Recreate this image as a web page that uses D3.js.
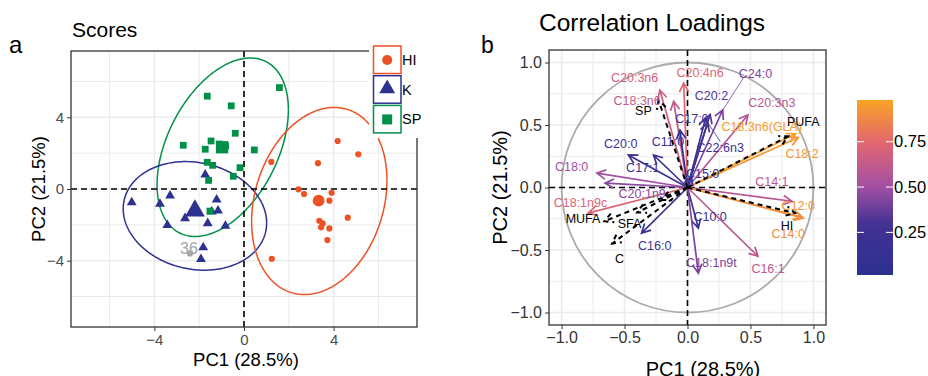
<!DOCTYPE html>
<html>
<head>
<meta charset="utf-8">
<script src="https://cdn.jsdelivr.net/npm/d3@7"></script>
<style>
  body { margin: 0; background: #fff; }
  svg { font-family: Helvetica, Arial, "Liberation Sans", sans-serif; }
</style>
</head>
<body>
<svg id="chart" width="928" height="376"></svg>
<script>
// ---- scores (panel a) ----
const groups = ['HI', 'K', 'SP'];
const groupColors = { HI: '#EE5124', K: '#2D3190', SP: '#00904A' };

const hiScores = [[2.43, -0.02], [2.68, -0.28], [3.91, -0.21], [3.81, -0.65], [4.63, -1.60],
  [3.36, -1.77], [3.51, -1.92], [3.44, -2.14], [3.81, -2.20], [3.72, -2.85], [1.24, -3.89],
  [4.18, 2.68], [5.10, 1.94], [3.30, 1.44], [1.22, 1.51]];
const kScores = [[-1.73, 0.74], [-5.01, -0.80], [-3.75, -0.89], [-3.30, -0.43], [-1.22, -0.65],
  [-2.63, -1.69], [-1.44, -1.32], [-1.16, -1.27], [-3.42, -2.07], [-1.62, -1.97], [-0.83, -2.11],
  [-1.82, -3.31], [-1.92, -3.97]];
const spScores = [[-1.64, 5.18], [-0.57, 4.64], [1.58, 5.66], [-0.39, 3.11], [-2.71, 2.44],
  [-1.47, 2.68], [-1.73, 2.22], [-1.10, 2.51], [-0.82, 2.40], [0.46, 2.18], [-1.64, 1.49],
  [-1.40, 1.32], [-0.18, 1.19], [-0.48, 0.71], [-1.58, 0.48], [-1.52, -1.23]];
const centroids = [['HI', 3.33, -0.65], ['K', -2.19, -1.32], ['SP', -0.98, 2.33]];
const outlier = { label: '36', x: -2.41, y: -3.59 };

// ellipse: centre, x half-range, y half-range, cos of phase shift
const ellipses = [
  { group: 'SP', cx: -0.95, cy: 2.33, rx: 2.93, ry: 4.98, c: 0.42 },
  { group: 'K', cx: -2.19, cy: -1.50, rx: 3.20, ry: 3.03, c: -0.13 },
  { group: 'HI', cx: 3.36, cy: -0.67, rx: 3.02, ry: 5.22, c: 0.22 }
];
const scoreTicks = [-4, 0, 4];

// ---- loadings (panel b) ----
const loadNames = ['C20:3n6', 'C18:3n6', 'C20:4n6', 'C20:2', 'C24:0', 'C20:3n3', 'C18:3n6(GLA)', 'C18:2',
  'C17:0', 'C22:6n3', 'C11:0', 'C17:1', 'C20:0', 'C18:0', 'C20:1n9', 'C18:1n9c', 'C16:0', 'C10:0',
  'C18:1n9t', 'C16:1', 'C14:1', 'C12:0', 'C14:0', 'C15:0'];
const loadPC1 = [-0.22, -0.11, -0.03, 0.18, 0.28, 0.48, 0.86, 0.88, 0.145, 0.16, -0.06, -0.27, -0.47,
  -0.72, -0.655, -0.79, -0.365, 0.086, 0.086, 0.56, 0.83, 0.91, 0.92, 0.03];
const loadPC2 = [0.78, 0.69, 0.835, 0.585, 0.62, 0.58, 0.43, 0.40, 0.56, 0.52, 0.46, 0.26, 0.26,
  0.115, 0.035, -0.205, -0.365, -0.325, -0.685, -0.55, -0.11, -0.237, -0.245, 0.09];
const loadContrib = [0.68, 0.62, 0.74, 0.33, 0.42, 0.58, 0.95, 0.93, 0.25, 0.30, 0.15, 0.18, 0.22,
  0.50, 0.45, 0.72, 0.24, 0.20, 0.42, 0.60, 0.58, 0.92, 0.90, 0.10];
const loadLabelX = [-0.42, -0.40, 0.10, 0.19, 0.54, 0.67, 0.59, 0.91, 0.035, 0.26, -0.155, -0.355, -0.53,
  -0.92, -0.36, -0.85, -0.26, 0.18, 0.19, 0.64, 0.67, 0.88, 0.80, 0.12];
const loadLabelY = [0.88, 0.70, 0.92, 0.74, 0.91, 0.68, 0.49, 0.27, 0.55, 0.32, 0.365, 0.16, 0.355,
  0.17, -0.045, -0.12, -0.46, -0.23, -0.60, -0.645, 0.05, -0.146, -0.365, 0.115];
const repelled = ['C24:0', 'C22:6n3'];

const suppNames = ['HI', 'K', 'SP', 'PUFA', 'MUFA', 'SFA', 'C'];
const suppPC1 = [0.855, -0.20, -0.23, 0.80, -0.66, -0.40, -0.60];
const suppPC2 = [-0.205, -0.10, 0.70, 0.41, -0.27, -0.20, -0.45];
const suppLabelX = [0.79, null, -0.35, 0.92, -0.83, -0.46, -0.54];
const suppLabelY = [-0.30, null, 0.615, 0.53, -0.25, -0.285, -0.57];

const loadTicks = [-1.0, -0.5, 0.0, 0.5, 1.0];
const colorTicks = [0.25, 0.50, 0.75];

const svg = d3.select('#chart');

const color = d3.scaleLinear()
  .domain([0.015, 0.3, 0.5, 0.75, 0.98])
  .range(['#2C3091', '#433293', '#A24FA4', '#E3676F', '#F8A424'])
  .interpolate(d3.interpolateRgb);

// ---------- panel a ----------
const xL = d3.scaleLinear().domain([-7.72, 7.72]).range([71, 417]);
const yL = d3.scaleLinear().domain([-7.7, 7.7]).range([327, 51]);
const gA = svg.append('g');

gA.append('rect').attr('x', 71).attr('y', 51).attr('width', 346).attr('height', 276).attr('fill', '#fff');
[-6, -2, 2, 6].forEach(v => {
  gA.append('line').attr('x1', xL(v)).attr('x2', xL(v)).attr('y1', 51).attr('y2', 327)
    .attr('stroke', '#EBEBEB').attr('stroke-width', 1);
  gA.append('line').attr('y1', yL(v)).attr('y2', yL(v)).attr('x1', 71).attr('x2', 417)
    .attr('stroke', '#EBEBEB').attr('stroke-width', 1);
});
scoreTicks.forEach(v => {
  gA.append('line').attr('x1', xL(v)).attr('x2', xL(v)).attr('y1', 51).attr('y2', 327)
    .attr('stroke', '#EBEBEB').attr('stroke-width', 1.6);
  gA.append('line').attr('y1', yL(v)).attr('y2', yL(v)).attr('x1', 71).attr('x2', 417)
    .attr('stroke', '#EBEBEB').attr('stroke-width', 1.6);
});

const ellLine = d3.line().x(d => xL(d[0])).y(d => yL(d[1]));
ellipses.forEach(e => {
  const phi = Math.acos(e.c);
  const pts = d3.range(0, 2 * Math.PI + 0.01, 0.02)
    .map(t => [e.cx + e.rx * Math.cos(t), e.cy + e.ry * Math.cos(t - phi)]);
  gA.append('path').attr('d', ellLine(pts)).attr('fill', 'none')
    .attr('stroke', groupColors[e.group]).attr('stroke-width', 1.5);
});

gA.append('line').attr('x1', xL(0)).attr('x2', xL(0)).attr('y1', 51).attr('y2', 327)
  .attr('stroke', '#000').attr('stroke-width', 1.6).attr('stroke-dasharray', '6,4');
gA.append('line').attr('y1', yL(0)).attr('y2', yL(0)).attr('x1', 71).attr('x2', 417)
  .attr('stroke', '#000').attr('stroke-width', 1.6).attr('stroke-dasharray', '6,4');

const sym = {
  HI: d3.symbol(d3.symbolCircle),
  K: d3.symbol(d3.symbolTriangle),
  SP: d3.symbol(d3.symbolSquare)
};
const smallSize = { HI: 30, K: 42, SP: 46 };
const bigSize = { HI: 110, K: 170, SP: 150 };

function drawPts(arr, g) {
  gA.selectAll(null).data(arr).enter().append('path')
    .attr('d', sym[g].size(smallSize[g])())
    .attr('transform', d => `translate(${xL(d[0])},${yL(d[1]) + (g === 'K' ? -1 : 0)})`)
    .attr('fill', groupColors[g]);
}
drawPts(hiScores, 'HI');
drawPts(kScores, 'K');
drawPts(spScores, 'SP');
centroids.forEach(c => {
  gA.append('path').attr('d', sym[c[0]].size(bigSize[c[0]])())
    .attr('transform', `translate(${xL(c[1])},${yL(c[2]) + (c[0] === 'K' ? -2 : 0)})`)
    .attr('fill', groupColors[c[0]]);
});
gA.append('circle').attr('cx', xL(outlier.x)).attr('cy', yL(outlier.y)).attr('r', 3.2).attr('fill', '#A6A6A6');
gA.append('text').attr('x', xL(outlier.x) - 1).attr('y', yL(outlier.y) + 1).attr('text-anchor', 'middle')
  .attr('font-size', 16).attr('fill', '#A6A6A6').text(outlier.label);

gA.append('rect').attr('x', 71).attr('y', 51).attr('width', 346).attr('height', 276)
  .attr('fill', 'none').attr('stroke', '#333').attr('stroke-width', 1.3);

const axA = gA.append('g').attr('transform', 'translate(0,327)')
  .call(d3.axisBottom(xL).tickValues(scoreTicks).tickSize(4).tickFormat(d3.format('d')));
const ayA = gA.append('g').attr('transform', 'translate(71,0)')
  .call(d3.axisLeft(yL).tickValues(scoreTicks).tickSize(4).tickFormat(d3.format('d')));
[axA, ayA].forEach(a => {
  a.select('.domain').remove();
  a.selectAll('line').attr('stroke', '#333');
  a.selectAll('text').attr('font-size', 15).attr('fill', '#4D4D4D').attr('font-family', null);
});

// legend
const legG = gA.append('g');
legG.append('rect').attr('x', 369).attr('y', 42).attr('width', 62).attr('height', 96).attr('fill', '#fff');
groups.forEach((g, i) => {
  const y0 = 46 + i * 29.7;
  legG.append('rect').attr('x', 373.5).attr('y', y0).attr('width', 27.5).attr('height', 27.5)
    .attr('fill', '#fff').attr('stroke', groupColors[g]).attr('stroke-width', 1.5);
  legG.append('path').attr('d', sym[g].size(g === 'HI' ? 80 : g === 'K' ? 110 : 100)())
    .attr('transform', `translate(${387.2},${y0 + 14 + (g === 'K' ? -1 : 0)})`)
    .attr('fill', groupColors[g]);
  legG.append('text').attr('x', 402).attr('y', y0 + 19).attr('font-size', 14.5).attr('fill', '#000').text(g);
});

gA.append('text').attr('x', 72).attr('y', 37).attr('font-size', 21).text('Scores');
gA.append('text').attr('x', 9).attr('y', 53).attr('font-size', 24).text('a');
gA.append('text').attr('x', 246).attr('y', 366).attr('text-anchor', 'middle').attr('font-size', 18.5).text('PC1 (28.5%)');
gA.append('text').attr('transform', 'translate(45,189) rotate(-90)').attr('text-anchor', 'middle')
  .attr('font-size', 18.5).text('PC2 (21.5%)');

// ---------- panel b ----------
const xR = d3.scaleLinear().domain([-1.1, 1.1]).range([549, 826]);
const yR = d3.scaleLinear().domain([-1.1, 1.1]).range([325, 50]);
const gB = svg.append('g');
const L = xR(-1.1), R = xR(1.1), T = yR(1.1), B = yR(-1.1);

gB.append('rect').attr('x', L).attr('y', T).attr('width', R - L).attr('height', B - T).attr('fill', '#fff');
[-0.75, -0.25, 0.25, 0.75].forEach(v => {
  gB.append('line').attr('x1', xR(v)).attr('x2', xR(v)).attr('y1', T).attr('y2', B)
    .attr('stroke', '#EBEBEB').attr('stroke-width', 1);
  gB.append('line').attr('y1', yR(v)).attr('y2', yR(v)).attr('x1', L).attr('x2', R)
    .attr('stroke', '#EBEBEB').attr('stroke-width', 1);
});
loadTicks.forEach(v => {
  gB.append('line').attr('x1', xR(v)).attr('x2', xR(v)).attr('y1', T).attr('y2', B)
    .attr('stroke', '#EBEBEB').attr('stroke-width', 1.6);
  gB.append('line').attr('y1', yR(v)).attr('y2', yR(v)).attr('x1', L).attr('x2', R)
    .attr('stroke', '#EBEBEB').attr('stroke-width', 1.6);
});

gB.append('ellipse').attr('cx', xR(0)).attr('cy', yR(0))
  .attr('rx', xR(1) - xR(0)).attr('ry', yR(0) - yR(1))
  .attr('fill', 'none').attr('stroke', '#AAAAAA').attr('stroke-width', 1.8);

gB.append('line').attr('x1', xR(0)).attr('x2', xR(0)).attr('y1', T).attr('y2', B)
  .attr('stroke', '#000').attr('stroke-width', 1.6).attr('stroke-dasharray', '6,4');
gB.append('line').attr('y1', yR(0)).attr('y2', yR(0)).attr('x1', L).attr('x2', R)
  .attr('stroke', '#000').attr('stroke-width', 1.6).attr('stroke-dasharray', '6,4');

function arrow(g, x, y, stroke, width, dash) {
  const x0 = xR(0), y0 = yR(0), x1 = xR(x), y1 = yR(y);
  const a = Math.atan2(y1 - y0, x1 - x0);
  const h = 10, sp = Math.PI / 6.5;
  const p = d3.path();
  p.moveTo(x0, y0); p.lineTo(x1, y1);
  p.moveTo(x1 - h * Math.cos(a - sp), y1 - h * Math.sin(a - sp));
  p.lineTo(x1, y1);
  p.lineTo(x1 - h * Math.cos(a + sp), y1 - h * Math.sin(a + sp));
  g.append('path').attr('d', p.toString()).attr('fill', 'none').attr('stroke', stroke)
    .attr('stroke-width', width).attr('stroke-dasharray', dash || null)
    .attr('stroke-linejoin', 'miter');
}

loadNames.forEach((n, i) => {
  arrow(gB, loadPC1[i], loadPC2[i], color(loadContrib[i]), 1.7);
  if (repelled.includes(n)) {
    gB.append('line').attr('x1', xR(loadPC1[i])).attr('y1', yR(loadPC2[i]))
      .attr('x2', xR(loadLabelX[i]) - (n === 'C24:0' ? 12 : 0)).attr('y2', yR(loadLabelY[i]) + (n === 'C24:0' ? 4 : -6))
      .attr('stroke', color(loadContrib[i])).attr('stroke-width', 0.8);
  }
});
suppNames.forEach((n, i) => arrow(gB, suppPC1[i], suppPC2[i], '#000', 2, '5,4'));

loadNames.forEach((n, i) => {
  gB.append('text').attr('x', xR(loadLabelX[i])).attr('y', yR(loadLabelY[i]) + 4.5)
    .attr('text-anchor', 'middle').attr('font-size', 12.5).attr('fill', color(loadContrib[i])).text(n);
});
suppNames.forEach((n, i) => {
  if (suppLabelX[i] === null) return;
  gB.append('text').attr('x', xR(suppLabelX[i])).attr('y', yR(suppLabelY[i]) + 4.5)
    .attr('text-anchor', 'middle').attr('font-size', 12.5).attr('fill', '#000').text(n);
});

gB.append('rect').attr('x', L).attr('y', T).attr('width', R - L).attr('height', B - T)
  .attr('fill', 'none').attr('stroke', '#333').attr('stroke-width', 1.3);

const axB = gB.append('g').attr('transform', `translate(0,${B})`)
  .call(d3.axisBottom(xR).tickValues(loadTicks).tickSize(4).tickFormat(d3.format('.1f')));
const ayB = gB.append('g').attr('transform', `translate(${L},0)`)
  .call(d3.axisLeft(yR).tickValues(loadTicks).tickSize(4).tickFormat(d3.format('.1f')));
[axB, ayB].forEach(a => {
  a.select('.domain').remove();
  a.selectAll('line').attr('stroke', '#333');
  a.selectAll('text').attr('font-size', 16).attr('fill', '#333').attr('font-family', null);
});

gB.append('text').attr('x', 652).attr('y', 31).attr('text-anchor', 'middle').attr('font-size', 24.5).text('Correlation Loadings');
gB.append('text').attr('x', 481).attr('y', 53).attr('font-size', 23).text('b');
gB.append('text').attr('x', 703).attr('y', 376).attr('text-anchor', 'middle').attr('font-size', 20).text('PC1 (28.5%)');
gB.append('text').attr('transform', `translate(507,${yR(0)}) rotate(-90)`).attr('text-anchor', 'middle')
  .attr('font-size', 20).text('PC2 (21.5%)');

// colour bar
const cb = d3.scaleLinear().domain([0.015, 0.98]).range([275, 100]);
const grad = svg.append('defs').append('linearGradient').attr('id', 'cbar')
  .attr('x1', 0).attr('x2', 0).attr('y1', 1).attr('y2', 0);
d3.range(0, 1.0001, 0.05).forEach(t => {
  grad.append('stop').attr('offset', t).attr('stop-color', color(0.015 + t * (0.98 - 0.015)));
});
svg.append('rect').attr('x', 857).attr('y', 100).attr('width', 36).attr('height', 175).attr('fill', 'url(#cbar)');
colorTicks.forEach(v => {
  svg.append('line').attr('x1', 857).attr('x2', 864).attr('y1', cb(v)).attr('y2', cb(v)).attr('stroke', '#fff').attr('stroke-width', 1);
  svg.append('line').attr('x1', 886).attr('x2', 893).attr('y1', cb(v)).attr('y2', cb(v)).attr('stroke', '#fff').attr('stroke-width', 1);
  svg.append('text').attr('x', 894).attr('y', cb(v) + 5.5).attr('font-size', 16.5).attr('fill', '#000').text(d3.format('.2f')(v));
});
</script>
</body>
</html>
